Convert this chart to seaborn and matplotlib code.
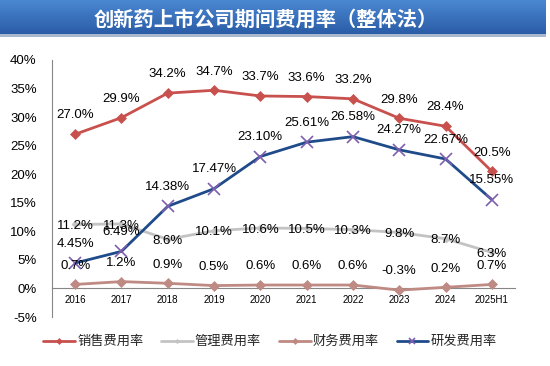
import numpy as np
import pandas as pd
import matplotlib
matplotlib.use("Agg")
import matplotlib.pyplot as plt
import seaborn as sns
from matplotlib.ticker import FixedLocator, FuncFormatter
from matplotlib.lines import Line2D

# ---------------- data ----------------
categories = ["2016", "2017", "2018", "2019", "2020", "2021", "2022", "2023", "2024", "2025H1"]
sales = [27.0, 29.9, 34.2, 34.7, 33.7, 33.6, 33.2, 29.8, 28.4, 20.5]
admin = [11.2, 11.3, 8.6, 10.1, 10.6, 10.5, 10.3, 9.8, 8.7, 6.3]
finance = [0.7, 1.2, 0.9, 0.5, 0.6, 0.6, 0.6, -0.3, 0.2, 0.7]
rnd = [4.45, 6.49, 14.38, 17.47, 23.10, 25.61, 26.58, 24.27, 22.67, 15.55]
series_names = ["销售费用率", "管理费用率", "财务费用率", "研发费用率"]
title = "创新药上市公司期间费用率（整体法）"
y_ticks = [-5, 0, 5, 10, 15, 20, 25, 30, 35, 40]

# ---------------- style ----------------
sns.set_theme(style="white")
plt.rcParams["font.family"] = ["Liberation Sans", "Noto Sans CJK SC", "DejaVu Sans"]
plt.rcParams["axes.unicode_minus"] = False

fig = plt.figure(figsize=(5.5, 3.66), dpi=100)
fig.patch.set_facecolor("white")

# title banner with gradient
gax = fig.add_axes([0.0, 1 - 34 / 366, 546 / 550, 34 / 366])
grad = np.linspace(0, 1, 64).reshape(-1, 1)
c_top = np.array([0x4A, 0x88, 0xD2]) / 255
c_bot = np.array([0x2B, 0x5C, 0xA6]) / 255
img = c_top[None, None, :] * (1 - grad[:, :, None]) + c_bot[None, None, :] * grad[:, :, None]
gax.imshow(img, extent=[0, 1, 0, 1], aspect="auto")
gax.set_axis_off()
sax = fig.add_axes([0.0, 1 - 37 / 366, 546 / 550, 3 / 366])
sax.set_facecolor("#A9B8CE")
sax.set_xticks([]); sax.set_yticks([])
for s in sax.spines.values():
    s.set_visible(False)
fig.text(266 / 550, 1 - 19 / 366, title, color="white", fontsize=14.6, fontweight="bold",
         ha="center", va="center", family=["Noto Sans CJK SC", "DejaVu Sans"])

# main axes
ax = fig.add_axes([52 / 550, 1 - 317 / 366, 463 / 550, 257 / 366])
x = np.arange(len(categories))

styles = [
    dict(data=sales, color="#C8504D", marker="D", ms=5, mfc="#C8504D", mec="#C8504D", mew=0.5, fmt="{:.1f}%", dy=13.5),
    dict(data=admin, color="#C3C3C3", marker="D", ms=3.5, mfc="#C3C3C3", mec="#C3C3C3", mew=0.5, fmt="{:.1f}%", dy=-1.2),
    dict(data=finance, color="#BF8A84", marker="D", ms=5, mfc="#BF8A84", mec="#BF8A84", mew=0.5, fmt="{:.1f}%", dy=13.5),
    dict(data=rnd, color="#1F4B8A", marker="x", ms=8, mfc="none", mec="#7F5FAF", mew=1.2, fmt="{:.2f}%", dy=14),
]

handles = []
for name, st in zip(series_names, styles):
    df = pd.DataFrame({"x": x, "y": st["data"]})
    sns.lineplot(data=df, x="x", y="y", ax=ax, color=st["color"], linewidth=2.0,
                 marker=st["marker"], markersize=st["ms"], markerfacecolor=st["mfc"],
                 markeredgecolor=st["mec"], markeredgewidth=st["mew"], sort=False, zorder=3)
    for xi, v in zip(x, st["data"]):
        ax.annotate(st["fmt"].format(v), (xi, v), xytext=(0, st["dy"]), textcoords="offset points",
                    ha="center", va="center", fontsize=9.5, color="black", zorder=5)
    handles.append(Line2D([0], [0], color=st["color"], linewidth=2.0, marker=st["marker"],
                          markersize=st["ms"] * 0.6, markerfacecolor=st["mfc"],
                          markeredgecolor=st["mec"], markeredgewidth=st["mew"]))

ax.set_xlim(-0.5, len(categories) - 0.5)
ax.set_ylim(-5, 40)
ax.yaxis.set_major_locator(FixedLocator(y_ticks))
ax.yaxis.set_major_formatter(FuncFormatter(lambda v, p: f"{int(v)}%"))
ax.set_xticks(x)
ax.set_xticklabels(categories, fontsize=7)
ax.set_xticks(np.arange(-0.5, len(categories), 1.0), minor=True)
ax.tick_params(axis="x", which="major", length=0, pad=5, labelsize=7, colors="black")
ax.tick_params(axis="x", which="minor", length=4, width=0.8, color="#868686", direction="out")
ax.tick_params(axis="y", which="major", length=4, width=0.8, color="#868686", direction="out",
               labelsize=9.5, pad=7, labelcolor="black")
ax.set_xlabel("")
ax.set_ylabel("")
ax.spines["top"].set_visible(False)
ax.spines["right"].set_visible(False)
ax.spines["left"].set_color("#868686")
ax.spines["left"].set_linewidth(0.8)
ax.spines["bottom"].set_position(("data", 0))
ax.spines["bottom"].set_color("#868686")
ax.spines["bottom"].set_linewidth(0.8)
ax.grid(False)
ax.set_facecolor("white")

fig.legend(handles, series_names, loc="center", bbox_to_anchor=(270 / 550, 1 - 342 / 366), ncol=4,
           frameon=False, fontsize=9.5, handlelength=2.4, handletextpad=0.15, columnspacing=1.35)

fig.savefig("out.png", dpi=100, facecolor="white")
